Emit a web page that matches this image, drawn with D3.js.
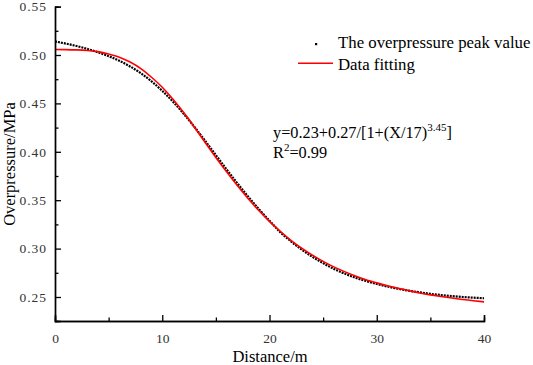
<!DOCTYPE html>
<html>
<head>
<meta charset="utf-8">
<script src="https://cdn.jsdelivr.net/npm/d3@7"></script>
<style>
  html, body { margin: 0; padding: 0; background: #fff; }
  svg { display: block; }
  text { font-family: "Liberation Serif", "Times New Roman", serif; }
</style>
</head>
<body>
<svg id="chart" width="533" height="365"></svg>
<script>
// ---- data ----
const distance = [0,1,2,3,4,5,6,7,8,9,10,11,12,13,14,15,16,17,18,19,20,21,22,23,24,25,26,27,28,29,30,31,32,33,34,35,36,37,38,39,40];
const peakValue = [0.5140,0.5118,0.5093,0.5063,0.5028,0.4988,0.4940,0.4882,0.4812,0.4728,0.4630,0.4518,0.4393,0.4257,0.4113,0.3965,0.3818,0.3675,0.3538,0.3408,0.3288,0.3170,0.3075,0.2990,0.2915,0.2850,0.2790,0.2742,0.2700,0.2665,0.2635,0.2608,0.2585,0.2565,0.2548,0.2533,0.2520,0.2509,0.2500,0.2493,0.2487];
const fitValue = [0.5057,0.5056,0.5053,0.5047,0.5035,0.5011,0.4978,0.4927,0.4860,0.4770,0.4667,0.4543,0.4405,0.4254,0.4096,0.3942,0.3793,0.3651,0.3517,0.3394,0.3281,0.3179,0.3086,0.3004,0.2932,0.2868,0.2811,0.2762,0.2718,0.2679,0.2646,0.2616,0.2589,0.2565,0.2542,0.2522,0.2505,0.2489,0.2474,0.2462,0.2450];
const xTicks = [0,10,20,30,40];
const xMinorTicks = [5,15,25,35];
const yTicks = [0.25,0.30,0.35,0.40,0.45,0.50,0.55];
const yMinorTicks = [0.275,0.325,0.375,0.425,0.475,0.525];
const legendLabels = ["The overpressure peak value", "Data fitting"];
const xTitle = "Distance/m";
const yTitle = "Overpressure/MPa";

// ---- layout ----
const svg = d3.select("#chart");
const x = d3.scaleLinear().domain([0, 40]).range([55, 484]);
const y = d3.scaleLinear().domain([0.2252, 0.55]).range([321, 6.6]);

const pts = distance.map((d, i) => ({x: d, y: peakValue[i]}));
const fit = distance.map((d, i) => ({x: d, y: fitValue[i]}));

const line = d3.line().x(d => x(d.x)).y(d => y(d.y)).curve(d3.curveMonotoneX);

// data points (dense dotted curve)
svg.append("path")
  .attr("d", line(pts))
  .attr("fill", "none")
  .attr("stroke", "#000")
  .attr("stroke-width", 2.2)
  .attr("stroke-dasharray", "2,1");

// fitting curve
svg.append("path")
  .attr("d", line(fit))
  .attr("fill", "none")
  .attr("stroke", "#ff0000")
  .attr("stroke-width", 1.6);

// axes
const axisColor = "#000";
const xAxis = svg.append("g").attr("transform", "translate(0,321)");
xAxis.call(d3.axisBottom(x).tickValues(xTicks).tickSize(-6).tickPadding(12).tickFormat(d3.format("d")));
const xMinor = svg.append("g").attr("transform", "translate(0,321)");
xMinor.call(d3.axisBottom(x).tickValues(xMinorTicks).tickSize(-3.5).tickFormat(""));

const yAxis = svg.append("g").attr("transform", "translate(55,0)");
yAxis.call(d3.axisLeft(y).tickValues(yTicks).tickSize(-6).tickPadding(8).tickFormat(d3.format(".2f")));
const yMinor = svg.append("g").attr("transform", "translate(55,0)");
yMinor.call(d3.axisLeft(y).tickValues(yMinorTicks).tickSize(-3.5).tickFormat(""));

[xAxis, xMinor, yAxis, yMinor].forEach(g => {
  g.attr("font-family", '"Liberation Serif", serif').attr("font-size", 13);
  g.selectAll(".domain").attr("stroke", axisColor).attr("stroke-width", 1.4);
  g.selectAll(".tick line").attr("stroke", axisColor).attr("stroke-width", 1.3);
  g.selectAll(".tick text")
    .attr("fill", "#333")
    .style("font-family", '"Liberation Serif", serif')
    .style("font-size", "13.5px");
});
yAxis.selectAll(".tick text").style("letter-spacing", "1px");
xAxis.selectAll(".tick text").attr("dy", "0.71em");

// axis titles
svg.append("text")
  .attr("x", 270).attr("y", 362)
  .attr("text-anchor", "middle")
  .style("font-size", "16.5px")
  .text(xTitle);

svg.append("text")
  .attr("transform", "translate(15,164) rotate(-90)")
  .attr("text-anchor", "middle")
  .style("font-size", "16.5px")
  .text(yTitle);

// legend
svg.append("rect").attr("x", 315).attr("y", 43).attr("width", 2.2).attr("height", 2.2).attr("fill", "#000");
svg.append("text").attr("x", 338).attr("y", 48.3).style("font-size", "16.8px").text(legendLabels[0]);
svg.append("line").attr("x1", 298).attr("x2", 333).attr("y1", 63.3).attr("y2", 63.3)
  .attr("stroke", "#ff0000").attr("stroke-width", 1.6);
svg.append("text").attr("x", 338).attr("y", 70).style("font-size", "16.8px").text(legendLabels[1]);

// equation annotation
const eq = svg.append("text").attr("x", 273).attr("y", 138).style("font-size", "16.3px");
eq.append("tspan").text("y=0.23+0.27/[1+(X/17)");
eq.append("tspan").attr("dy", -7).style("font-size", "11px").text("3.45");
eq.append("tspan").attr("dy", 7).text("]");

const r2 = svg.append("text").attr("x", 273).attr("y", 158).style("font-size", "16.3px");
r2.append("tspan").text("R");
r2.append("tspan").attr("dy", -7).style("font-size", "11px").text("2");
r2.append("tspan").attr("dy", 7).text("=0.99");
</script>
</body>
</html>
